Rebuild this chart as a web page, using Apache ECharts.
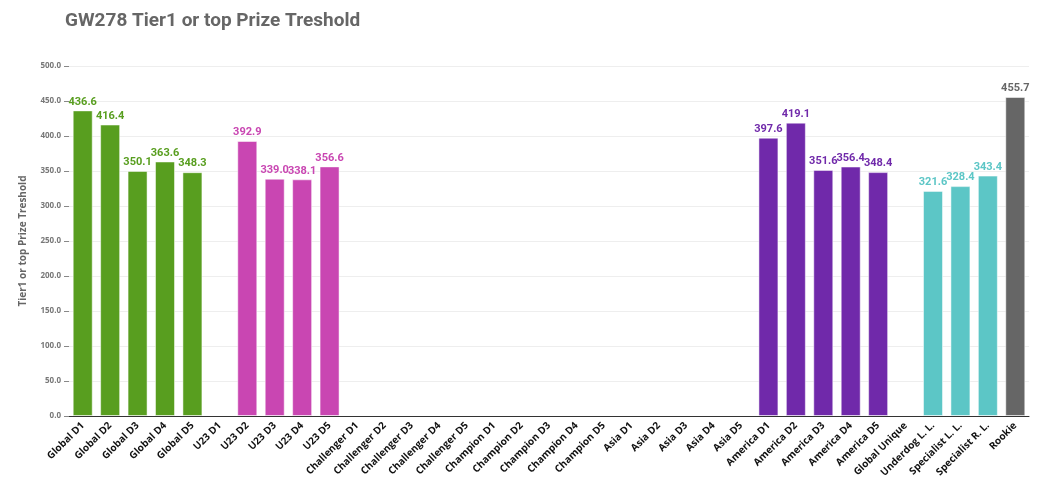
<!DOCTYPE html>
<html>
<head>
<meta charset="utf-8">
<script src="https://cdn.jsdelivr.net/npm/echarts@6/dist/echarts.min.js"></script>
<style>
  html, body { margin: 0; padding: 0; background: #fff; }
  #chart { width: 1050px; height: 492px; }
</style>
</head>
<body>
<div id="chart"></div>
<script>
// categories along the x axis
const categories = [
  'Global D1', 'Global D2', 'Global D3', 'Global D4', 'Global D5',
  'U23 D1', 'U23 D2', 'U23 D3', 'U23 D4', 'U23 D5',
  'Challenger D1', 'Challenger D2', 'Challenger D3', 'Challenger D4', 'Challenger D5',
  'Champion D1', 'Champion D2', 'Champion D3', 'Champion D4', 'Champion D5',
  'Asia D1', 'Asia D2', 'Asia D3', 'Asia D4', 'Asia D5',
  'America D1', 'America D2', 'America D3', 'America D4', 'America D5',
  'Global Unique', 'Underdog L. L.', 'Specialist L. L.', 'Specialist R. L.', 'Rookie'
];

// thresholds (null = no bar)
const values = [
  436.6, 416.4, 350.1, 363.6, 348.3,
  null, 392.9, 339.0, 338.1, 356.6,
  null, null, null, null, null,
  null, null, null, null, null,
  null, null, null, null, null,
  397.6, 419.1, 351.6, 356.4, 348.4,
  null, 321.6, 328.4, 343.4, 455.7
];

// group colour for each category
const GREEN = '#589e1f', PINK = '#c946b2', PURPLE = '#7029aa', TEAL = '#5cc6c6', GREY = '#666666';
const colors = [
  GREEN, GREEN, GREEN, GREEN, GREEN,
  PINK, PINK, PINK, PINK, PINK,
  GREY, GREY, GREY, GREY, GREY,
  GREY, GREY, GREY, GREY, GREY,
  GREY, GREY, GREY, GREY, GREY,
  PURPLE, PURPLE, PURPLE, PURPLE, PURPLE,
  TEAL, TEAL, TEAL, TEAL, GREY
];

const yTicks = { min: 0, max: 500, interval: 50 };

const FONT = '"Open Sans", "DejaVu Sans", sans-serif';
const NUM_FONT = 'Roboto, "Open Sans", sans-serif';

const barData = values.map((v, i) => ({
  value: v,
  itemStyle: { color: colors[i], borderColor: 'rgba(255,255,255,0.5)', borderWidth: 1 },
  label: { color: colors[i] }
}));

const chart = echarts.init(document.getElementById('chart'));

const option = {
  animation: false,
  title: {
    text: 'GW278 Tier1 or top Prize Treshold',
    left: 60,
    top: 7,
    textStyle: { fontFamily: NUM_FONT, fontSize: 19, fontWeight: 'bold', color: '#666' }
  },
  grid: { left: 69, right: 21, top: 66, bottom: 76 },
  xAxis: {
    type: 'category',
    data: categories,
    axisTick: { alignWithLabel: true, length: 5, lineStyle: { color: '#333' } },
    axisLine: { lineStyle: { color: '#333' } },
    axisLabel: {
      rotate: 45,
      interval: 0,
      margin: 8,
      fontFamily: FONT,
      fontSize: 10,
      fontWeight: 'bold',
      color: '#111'
    }
  },
  yAxis: {
    type: 'value',
    min: yTicks.min,
    max: yTicks.max,
    interval: yTicks.interval,
    name: 'Tier1 or top Prize Treshold',
    nameLocation: 'middle',
    nameGap: 41,
    nameTextStyle: { fontFamily: FONT, fontSize: 10, fontWeight: 'bold', color: '#666' },
    axisLine: { show: false },
    axisTick: { show: true, length: 5, lineStyle: { color: '#888' } },
    axisLabel: {
      formatter: v => v.toFixed(1),
      fontFamily: FONT,
      fontSize: 8,
      fontWeight: 'bold',
      color: '#777',
      margin: 8
    },
    splitLine: { lineStyle: { color: '#eeeeee' } }
  },
  series: [{
    type: 'bar',
    data: barData,
    barWidth: 20,
    label: {
      show: true,
      position: 'top',
      distance: 3,
      formatter: p => (p.value == null ? '' : Number(p.value).toFixed(1)),
      fontFamily: NUM_FONT,
      fontSize: 11,
      fontWeight: 'bold'
    }
  }]
};

chart.setOption(option);
</script>
</body>
</html>
